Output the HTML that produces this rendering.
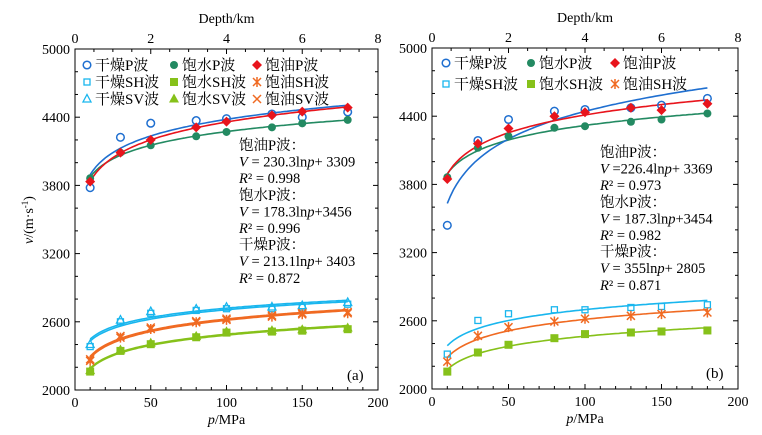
<!DOCTYPE html>
<html><head><meta charset="utf-8"><style>
body{margin:0;background:#fff}
svg{display:block;font-family:"Liberation Serif","Noto Serif CJK SC",serif}
</style></head><body>
<svg id="c" width="762" height="435"></svg>
<script>
const pressures=[10,30,50,80,100,130,150,180];
const aDryP=[3780,4223,4347,4370,4387,4428,4400,4446];
const aWatP=[3863,4088,4153,4232,4270,4311,4346,4376];
const aOilP=[3833,4088,4200,4311,4361,4417,4449,4484];
const aDrySH=[2382,2600,2675,2700,2715,2715,2730,2755];
const aDrySV=[2400,2615,2690,2712,2728,2730,2742,2770];
const aOilSH=[2256,2461,2537,2596,2617,2646,2666,2675];
const aOilSV=[2270,2475,2550,2606,2628,2656,2676,2686];
const aWatSH=[2162,2344,2403,2464,2505,2514,2522,2535];
const aWatSV=[2170,2352,2412,2472,2512,2522,2530,2545];
const bDryP=[3440,4186,4371,4444,4459,4474,4497,4556];
const bWatP=[3863,4122,4224,4298,4312,4351,4371,4424];
const bOilP=[3848,4159,4292,4400,4435,4474,4453,4509];
const bDrySH=[2307,2603,2662,2697,2697,2717,2726,2741];
const bOilSH=[2241,2468,2544,2594,2618,2644,2659,2673];
const bWatSH=[2153,2321,2389,2447,2483,2497,2506,2515];
const xTicks=[0,50,100,150,200];
const yTicks=[2000,2600,3200,3800,4400,5000];
const depthTicks=[0,2,4,6,8];

const NS="http://www.w3.org/2000/svg";
const svg=document.getElementById('c');
function el(t,a,p){const e=document.createElementNS(NS,t);for(const k in a)e.setAttribute(k,a[k]);(p||svg).appendChild(e);return e;}
const C={blue:"#1f6fd0",green:"#238a62",red:"#e8141c",cyan:"#19b6ee",lime:"#86c11a",orange:"#f06a22"};

function panel(x0,x1,y0,y1,name){
  const g=el('g',{});
  
  
  const sx=p=>x0+(p/200)*(x1-x0);
  const sy=v=>y1-(v-2000)/3000*(y1-y0);
  el('rect',{x:x0,y:y0,width:x1-x0,height:y1-y0,fill:'none',stroke:'#000','stroke-width':1},g);
  for(let p=0;p<=200;p+=10){const m=p%50==0?5:3;
    el('line',{x1:sx(p),x2:sx(p),y1:y1,y2:y1-m,stroke:'#000'},g);}
  for(let d=0;d<=8;d+=0.5){const m=d%2==0?5:3;const xx=x0+d/8*(x1-x0);
    el('line',{x1:xx,x2:xx,y1:y0,y2:y0+m,stroke:'#000'},g);}
  for(let v=2000;v<=5000;v+=200){const m=(v-2000)%600==0?5:3;
    el('line',{x1:x0,x2:x0+m,y1:sy(v),y2:sy(v),stroke:'#000'},g);
    el('line',{x1:x1,x2:x1-m,y1:sy(v),y2:sy(v),stroke:'#000'},g);}
  xTicks.forEach(t=>{const e=el('text',{x:sx(t),y:y1+17,'text-anchor':'middle','font-size':14},g);e.textContent=t;
    });
  depthTicks.forEach(t=>{const e=el('text',{x:x0+t/8*(x1-x0),y:y0-6,'text-anchor':'middle','font-size':14},g);e.textContent=t;
    });
  yTicks.forEach(t=>{const e=el('text',{x:x0-5,y:sy(t)+5,'text-anchor':'end','font-size':14},g);e.textContent=t;
    });
  const xt=el('text',{x:(x0+x1)/2,y:y1+34,'text-anchor':'middle','font-size':14},g);
  xt.innerHTML='<tspan font-style="italic">p</tspan>/MPa';
  
  const dt=el('text',{x:(x0+x1)/2,y:y0-26,'text-anchor':'middle','font-size':14},g);
  dt.textContent='Depth/km';
  
  return {g,sx,sy};
}

function fit(vals){let n=pressures.length,sx=0,sy=0,sxx=0,sxy=0;
  pressures.forEach((p,i)=>{const l=Math.log(p);sx+=l;sy+=vals[i];sxx+=l*l;sxy+=l*vals[i];});
  const a=(n*sxy-sx*sy)/(n*sxx-sx*sx);return [a,(sy-a*sx)/n];}
function curve(P,vals,col,name){const [a,b]=fit(vals);let d='';
  for(let p=10;p<=180;p+=2){d+=(p==10?'M':'L')+P.sx(p).toFixed(1)+','+P.sy(a*Math.log(p)+b).toFixed(1);}
  const e=el('path',{d:d,fill:'none',stroke:col,'stroke-width':1.6},P.g);
  }
function marker(g,type,col,x,y){
  if(type=='circO')el('circle',{cx:x,cy:y,r:3.8,fill:'none',stroke:col,'stroke-width':1.5},g);
  else if(type=='circF')el('circle',{cx:x,cy:y,r:4,fill:col},g);
  else if(type=='diam')el('path',{d:`M${x},${y-5}L${x+5},${y}L${x},${y+5}L${x-5},${y}Z`,fill:col},g);
  else if(type=='sqO')el('rect',{x:x-3,y:y-3,width:6,height:6,fill:'none',stroke:col,'stroke-width':1.3},g);
  else if(type=='sqF')el('rect',{x:x-4,y:y-4,width:8,height:8,fill:col},g);
  else if(type=='triO')el('path',{d:`M${x},${y-4.5}L${x+4},${y+3}L${x-4},${y+3}Z`,fill:'none',stroke:col,'stroke-width':1.3},g);
  else if(type=='triF')el('path',{d:`M${x},${y-5.5}L${x+5},${y+3.5}L${x-5},${y+3.5}Z`,fill:col},g);
  else if(type=='ast'){el('path',{d:`M${x-4},${y-4}L${x+4},${y+4}M${x-4},${y+4}L${x+4},${y-4}M${x},${y-5}L${x},${y+5}`,stroke:col,'stroke-width':1.5},g);}
  else if(type=='x'){el('path',{d:`M${x-4},${y-4}L${x+4},${y+4}M${x-4},${y+4}L${x+4},${y-4}`,stroke:col,'stroke-width':1.5},g);}
}
function series(P,vals,type,col,name){const g=el('g',{},P.g);
  
  pressures.forEach((p,i)=>marker(g,type,col,P.sx(p),P.sy(vals[i])));}
function legend(P,x,y,type,col,label){const g=el('g',{},P.g);
  
  marker(g,type,col,x,y);const t=el('text',{x:x+8,y:y+5,'font-size':15},g);t.textContent=label;}
function note(P,x,y,lines){const t=el('text',{x:x,y:y,'font-size':14.5},P.g);
  
  lines.forEach((l,i)=>{const s=el('tspan',{x:x,y:y+i*16.6},t);s.innerHTML=l;});}

// Panel A
const A=panel(75,378,49,390,'panel-a');
curve(A,aWatP,C.green,'fit-water-p');curve(A,aDryP,C.blue,'fit-dry-p');curve(A,aOilP,C.red,'fit-oil-p');
curve(A,aDrySV,C.cyan,'fit-dry-sv');curve(A,aDrySH,C.cyan,'fit-dry-sh');
curve(A,aOilSV,C.orange,'fit-oil-sv');curve(A,aOilSH,C.orange,'fit-oil-sh');
curve(A,aWatSV,C.lime,'fit-water-sv');curve(A,aWatSH,C.lime,'fit-water-sh');
series(A,aDryP,'circO',C.blue,'dry-p-points');series(A,aWatP,'circF',C.green,'water-p-points');series(A,aOilP,'diam',C.red,'oil-p-points');
series(A,aDrySH,'sqO',C.cyan,'dry-sh-points');series(A,aDrySV,'triO',C.cyan,'dry-sv-points');
series(A,aOilSH,'ast',C.orange,'oil-sh-points');series(A,aOilSV,'x',C.orange,'oil-sv-points');
series(A,aWatSH,'sqF',C.lime,'water-sh-points');series(A,aWatSV,'triF',C.lime,'water-sv-points');
legend(A,87,65,'circO',C.blue,'干燥P波');legend(A,174,65,'circF',C.green,'饱水P波');legend(A,257,65,'diam',C.red,'饱油P波');
legend(A,87,82,'sqO',C.cyan,'干燥SH波');legend(A,174,82,'sqF',C.lime,'饱水SH波');legend(A,257,82,'ast',C.orange,'饱油SH波');
legend(A,87,99,'triO',C.cyan,'干燥SV波');legend(A,174,99,'triF',C.lime,'饱水SV波');legend(A,257,99,'x',C.orange,'饱油SV波');
note(A,239,150,['饱油P波：','<tspan font-style="italic">V</tspan> = 230.3ln<tspan font-style="italic">p</tspan>+ 3309','<tspan font-style="italic">R</tspan>² = 0.998','饱水P波：','<tspan font-style="italic">V</tspan> = 178.3ln<tspan font-style="italic">p</tspan>+3456','<tspan font-style="italic">R</tspan>² = 0.996','干燥P波：','<tspan font-style="italic">V</tspan> = 213.1ln<tspan font-style="italic">p</tspan>+ 3403','<tspan font-style="italic">R</tspan>² = 0.872']);
const la=el('text',{x:347,y:380,'font-size':15},A.g);la.textContent='(a)';


// Panel B
const B=panel(432,738,48,389,'panel-b');
curve(B,bWatP,C.green,'fit-water-p');curve(B,bDryP,C.blue,'fit-dry-p');curve(B,bOilP,C.red,'fit-oil-p');
curve(B,bDrySH,C.cyan,'fit-dry-sh');curve(B,bOilSH,C.orange,'fit-oil-sh');curve(B,bWatSH,C.lime,'fit-water-sh');
series(B,bDryP,'circO',C.blue,'dry-p-points');series(B,bWatP,'circF',C.green,'water-p-points');series(B,bOilP,'diam',C.red,'oil-p-points');
series(B,bDrySH,'sqO',C.cyan,'dry-sh-points');series(B,bOilSH,'ast',C.orange,'oil-sh-points');series(B,bWatSH,'sqF',C.lime,'water-sh-points');
legend(B,446,63,'circO',C.blue,'干燥P波');legend(B,531,63,'circF',C.green,'饱水P波');legend(B,615,63,'diam',C.red,'饱油P波');
legend(B,446,84,'sqO',C.cyan,'干燥SH波');legend(B,531,84,'sqF',C.lime,'饱水SH波');legend(B,615,84,'ast',C.orange,'饱油SH波');
note(B,600,157,['饱油P波：','<tspan font-style="italic">V</tspan> =226.4ln<tspan font-style="italic">p</tspan>+ 3369','<tspan font-style="italic">R</tspan>² = 0.973','饱水P波：','<tspan font-style="italic">V</tspan> = 187.3ln<tspan font-style="italic">p</tspan>+3454','<tspan font-style="italic">R</tspan>² = 0.982','干燥P波：','<tspan font-style="italic">V</tspan> = 355ln<tspan font-style="italic">p</tspan>+ 2805','<tspan font-style="italic">R</tspan>² = 0.871']);
const lb=el('text',{x:706,y:378,'font-size':15},B.g);lb.textContent='(b)';


const yt=el('text',{x:0,y:0,'font-size':14,'text-anchor':'middle',transform:'translate(33,220) rotate(-90)'});
yt.innerHTML='<tspan font-style="italic">v</tspan>/(m·s<tspan dy="-5" font-size="9">-1</tspan><tspan dy="5">)</tspan>';


</script>
</body></html>
